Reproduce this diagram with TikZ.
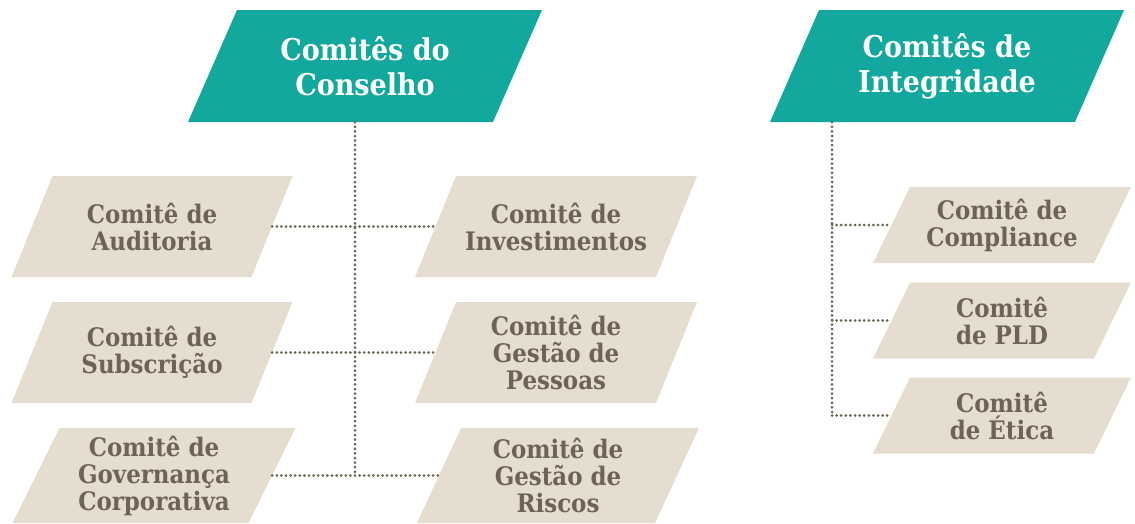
\documentclass[tikz,border=0pt]{standalone}
\usepackage{fontspec}
\setmainfont{DejaVu Serif Condensed}

\definecolor{verde}{HTML}{13A89D}
\definecolor{areia}{HTML}{E6DDD1}
\definecolor{terra}{HTML}{6E6455}

% parallelogram: colour, centre x, centre y, body width, height, slant
\newcommand\paralelo[6]{%
  \fill [#1]
    (#2-#4/2-#6/2, #3+#5/2) --
    (#2+#4/2-#6/2, #3+#5/2) --
    (#2+#4/2+#6/2, #3-#5/2) --
    (#2-#4/2+#6/2, #3-#5/2) -- cycle;}

\tikzset{
  titulo/.style={text=white, align=center, inner sep=0pt,
    font=\bfseries\fontsize{30}{35}\selectfont,
    minimum height=112pt, minimum width=305pt},
  comite/.style={text=terra, align=center, inner sep=0pt,
    font=\bfseries\fontsize{25.5}{27}\selectfont,
    minimum height=101pt, minimum width=240pt},
  pontilhado/.style={terra, line width=3pt, line cap=round,
    dash pattern=on 0pt off 4.6pt}
}

\begin{document}
\begin{tikzpicture}[x=1pt, y=-1pt]
%\draw[help lines, step=50] (0, 0) grid (1135,523);
\useasboundingbox (0,0) rectangle (1135,523);

\pgfmathsetmacro\colA{152};
\pgfmathsetmacro\colB{556};
\pgfmathsetmacro\colC{1002};
\pgfmathsetmacro\troncoA{355};
\pgfmathsetmacro\troncoB{832};

% headers
\paralelo{verde}{365}{66}{305}{112}{49}
\node [titulo] (conselho) at (365, 66) {Comitês do\\Conselho};
\paralelo{verde}{947}{66}{305}{112}{49}
\node [titulo] (integridade) at (947, 66) {Comitês de\\Integridade};

% comites do conselho
\paralelo{areia}{\colA}{226.5}{240}{101}{41}
\node [comite] (auditoria) at (\colA, 226.5) {Comitê de\\Auditoria};
\paralelo{areia}{\colA}{352.5}{240}{101}{41}
\node [comite] (subscricao) at (\colA, 352.5) {Comitê de\\Subscrição};
\paralelo{areia}{\colA+2}{475.5}{236}{95}{47}
\node [comite, minimum width=236pt, minimum height=95pt]
  (governanca) at (\colA+2, 475.5) {Comitê de\\Governança\\Corporativa};

\paralelo{areia}{\colB}{226.5}{241}{101}{41}
\node [comite, minimum width=241pt] (investimentos) at (\colB, 226.5)
  {Comitê de\\Investimentos};
\paralelo{areia}{\colB}{352.5}{241}{101}{41}
\node [comite, minimum width=241pt] (pessoas) at (\colB, 352.5)
  {Comitê de\\Gestão de\\Pessoas};
\paralelo{areia}{\colB+2}{475.5}{238}{95}{44}
\node [comite, minimum width=238pt, minimum height=95pt]
  (riscos) at (\colB+2, 475.5) {Comitê de\\Gestão de\\Riscos};

% comites de integridade
\paralelo{areia}{\colC}{225}{221}{76}{37}
\node [comite, minimum width=221pt, minimum height=76pt]
  (compliance) at (\colC, 225) {Comitê de\\Compliance};
\paralelo{areia}{\colC}{320.5}{221}{76}{37}
\node [comite, minimum width=221pt, minimum height=76pt]
  (pld) at (\colC, 320.5) {Comitê\\de PLD};
\paralelo{areia}{\colC}{415.5}{221}{76}{37}
\node [comite, minimum width=221pt, minimum height=76pt]
  (etica) at (\colC, 415.5) {Comitê\\de Ética};

\coordinate (troncoA) at (\troncoA, 0);
\coordinate (troncoB) at (\troncoB, 0);

% lines
\draw [pontilhado] (conselho.south -| troncoA) to (governanca.east -| troncoA);
\draw [pontilhado] (auditoria.east) to (investimentos.west);
\draw [pontilhado] (subscricao.east) to (pessoas.west);
\draw [pontilhado] (governanca.east) to (riscos.west);

\draw [pontilhado] (integridade.south -| troncoB) to (etica.west -| troncoB);
\draw [pontilhado] (compliance.west -| troncoB) to (compliance.west);
\draw [pontilhado] (pld.west -| troncoB) to (pld.west);
\draw [pontilhado] (etica.west -| troncoB) to (etica.west);

\end{tikzpicture}
\end{document}
